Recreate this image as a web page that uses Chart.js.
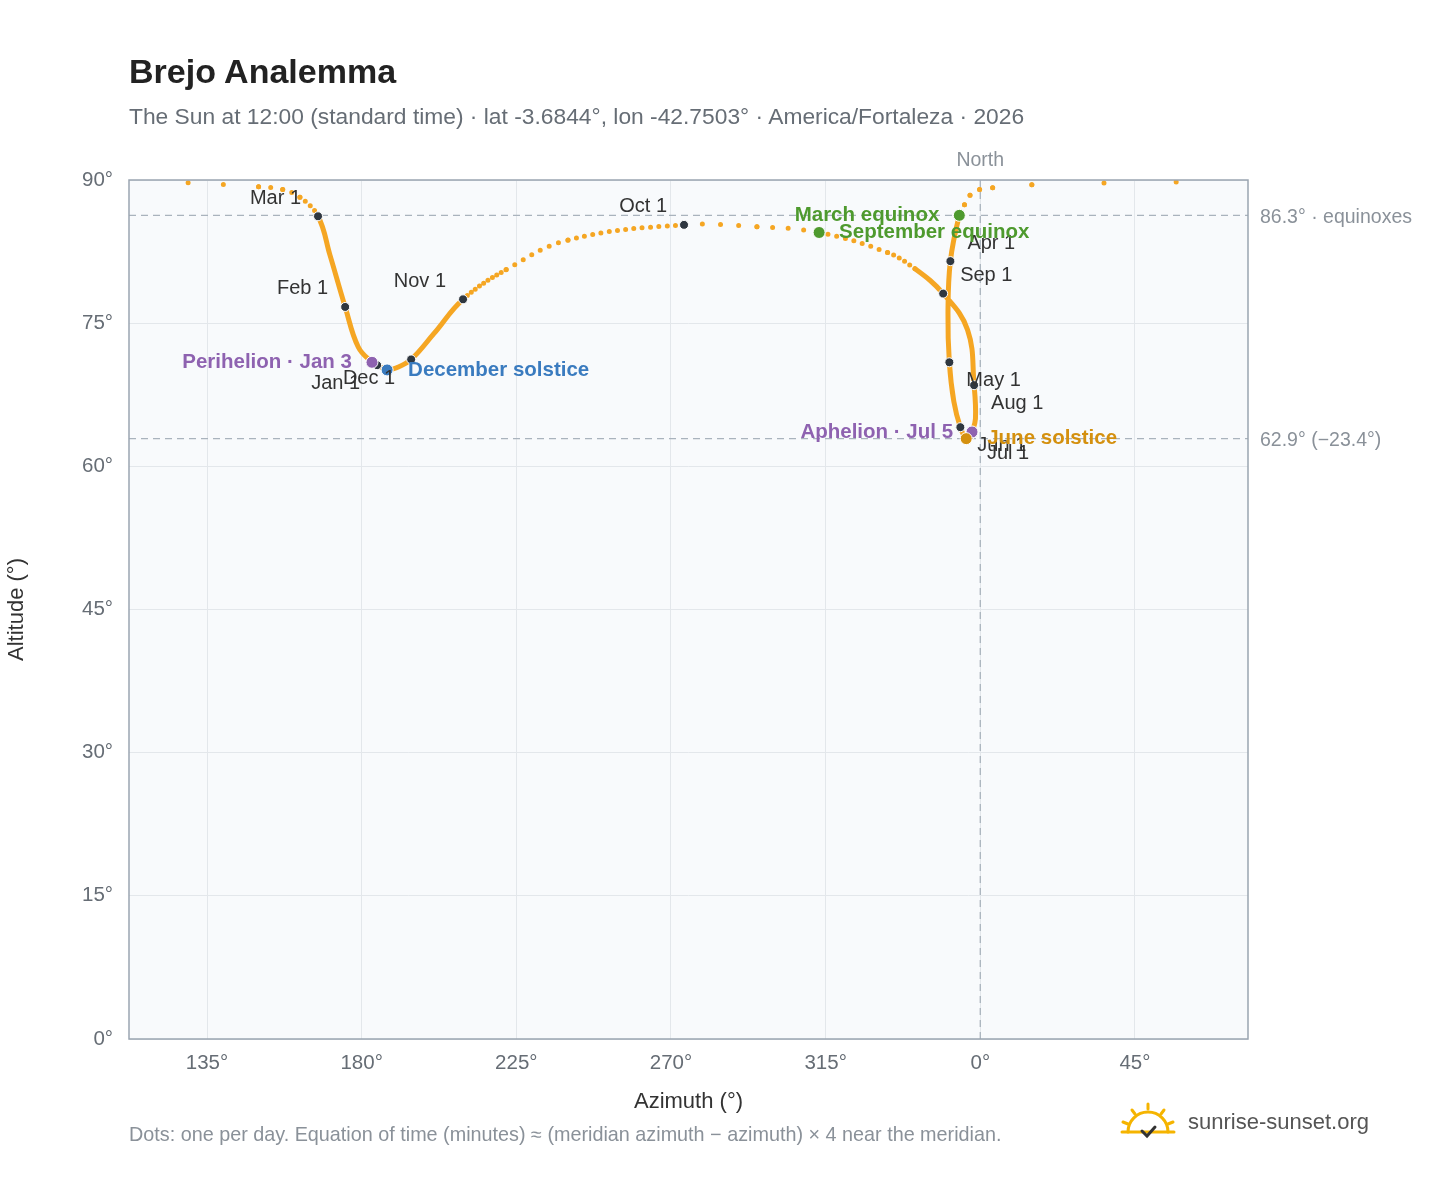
<!DOCTYPE html>
<html>
<head>
<meta charset="utf-8">
<script src="https://cdn.jsdelivr.net/npm/chart.js@4.4.1/dist/chart.umd.min.js"></script>
<style>
  body { margin: 0; background: #fff; font-family: "Liberation Sans", Arial, sans-serif; }
  #wrap { position: relative; width: 1448px; height: 1188px; }
  #title { position: absolute; left: 129px; top: 52px; font-size: 34px; font-weight: bold; color: #222; }
  #sub { position: absolute; left: 129px; top: 103px; font-size: 22.8px; color: #666d75; }
  #foot { position: absolute; left: 129px; top: 1123px; font-size: 19.8px; color: #8a9199; }
  #logo { position: absolute; left: 1120px; top: 1102px; font-size: 22px; color: #555; display: flex; align-items: center; gap: 12px; }
  canvas { position: absolute; left: 0; top: 0; }
</style>
</head>
<body>
<div id="wrap">
  <canvas id="chart" width="1448" height="1188"></canvas>
  <div id="title">Brejo Analemma</div>
  <div id="sub">The Sun at 12:00 (standard time) · lat -3.6844°, lon -42.7503° · America/Fortaleza · 2026</div>
  <div id="foot">Dots: one per day. Equation of time (minutes) ≈ (meridian azimuth − azimuth) × 4 near the meridian.</div>
  <div id="logo">
    <svg width="56" height="40" viewBox="0 0 56 40">
      <g stroke="#f5b400" stroke-width="3" stroke-linecap="round" fill="none">
        <path d="M8 30 A20 20 0 0 1 48 30"/>
        <line x1="28" y1="2" x2="28" y2="7"/><line x1="12" y1="8" x2="15" y2="12"/>
        <line x1="44" y1="8" x2="41" y2="12"/><line x1="3" y1="20" x2="8" y2="22"/>
        <line x1="53" y1="20" x2="48" y2="22"/><line x1="2" y1="30" x2="54" y2="30"/>
      </g>
      <path d="M22 29 L27 34 L35 25" stroke="#333" stroke-width="3" fill="none" stroke-linecap="round"/>
    </svg>
    <span>sunrise-sunset.org</span>
  </div>
</div>
<script>
// ── Data ───────────────────────────────────────────────────
// day of year, azimuth (unwrapped: 360 = north), altitude
const days = [1, 3, 15, 32, 46, 60, 64, 66, 68, 70,
              72, 74, 75, 76, 77, 78, 79, 91, 105, 121, 135, 152, 172, 182, 186, 196, 213, 227, 244, 253, 258, 266, 270, 274, 288, 295, 305, 319, 335, 344, 355, 365];
const azimuth = [184.5, 183.0, 179.0, 175.2, 170.8, 167.3, 162.0, 157.0, 150.0, 129.5,
                 417.0, 375.0, 363.6, 359.8, 357.0, 355.4, 353.9, 351.3, 350.6, 351.0, 352.3, 354.2, 355.9, 357.0, 357.6, 358.6, 358.2, 356.3, 349.2, 341.0, 333.0, 313.1, 295.0, 273.8, 240.0, 222.0, 209.5, 201.0, 194.4, 190.0, 187.4, 184.6];
const altitude = [70.6, 70.9, 72.5, 76.7, 82.1, 86.2, 88.2, 89.0, 89.3, 89.7,
                  89.8, 89.5, 89.2, 89.0, 88.4, 87.4, 86.3, 81.5, 76.0, 70.9, 66.8, 64.1, 62.9, 63.2, 63.6, 65.0, 68.5, 74.3, 78.1, 80.7, 82.4, 84.5, 85.1, 85.3, 83.7, 80.6, 77.5, 73.9, 71.2, 70.3, 70.1, 70.6];

const monthLabels = ['Jan 1', 'Feb 1', 'Mar 1', 'Apr 1', 'May 1', 'Jun 1', 'Jul 1', 'Aug 1', 'Sep 1', 'Oct 1', 'Nov 1', 'Dec 1'];
const monthDays = [1, 32, 60, 91, 121, 152, 182, 213, 244, 274, 305, 335];

const eventNames = ['March equinox', 'September equinox', 'Perihelion · Jan 3', 'December solstice', 'Aphelion · Jul 5', 'June solstice'];
const eventDays = [79, 266, 3, 355, 186, 172];
const eventColors = ['#4e9a2e', '#4e9a2e', '#8e62b0', '#3a7bbf', '#8e62b0', '#d4900f'];

const equinoxAlt = 86.3;
const solsticeAlt = 62.9;
const xTicks = [135, 180, 225, 270, 315, 360, 405];

// ── Build datasets ─────────────────────────────────────────
const pt = d => { const i = days.indexOf(d); return { x: azimuth[i], y: altitude[i], d }; };
// path runs from the right-hand wrap (Mar 13) through the year and back to Mar 11
const split = days.indexOf(72);
const pathIdx = [...days.keys()].slice(split).concat([...days.keys()].slice(0, split));
const path = pathIdx.map(i => ({ x: azimuth[i], y: altitude[i], d: days[i] }));

const ORANGE = '#f5a623';
const FONT = '"Liberation Sans", Arial';

// label placement: [dx, dy, align]
const monthPlace = {
  'Jan 1': [-17, 18, 'right'], 'Feb 1': [-17, -18, 'right'], 'Mar 1': [-17, -18, 'right'],
  'Apr 1': [17, -18, 'left'], 'May 1': [17, 18, 'left'], 'Jun 1': [17, 18, 'left'],
  'Jul 1': [17, 18, 'left'], 'Aug 1': [17, 18, 'left'], 'Sep 1': [17, -18, 'left'],
  'Oct 1': [-17, -18, 'right'], 'Nov 1': [-17, -18, 'right'], 'Dec 1': [-16, 19, 'right']
};
const eventPlace = [[-20, 0, 'right'], [20, 0, 'left'], [-20, 0, 'right'], [21, 0, 'left'], [-19, 0, 'right'], [21, 0, 'left']];

const overlay = {
  id: 'overlay',
  beforeDatasetsDraw(chart) {
    const { ctx, chartArea: a, scales: { x, y } } = chart;
    ctx.save();
    ctx.setLineDash([7, 5]);
    ctx.strokeStyle = '#a9b3bd';
    ctx.lineWidth = 1.3;
    [equinoxAlt, solsticeAlt].forEach(v => {
      ctx.beginPath(); ctx.moveTo(a.left, y.getPixelForValue(v)); ctx.lineTo(a.right, y.getPixelForValue(v)); ctx.stroke();
    });
    ctx.beginPath(); ctx.moveTo(x.getPixelForValue(360), a.top); ctx.lineTo(x.getPixelForValue(360), a.bottom); ctx.stroke();
    ctx.setLineDash([]);
    ctx.fillStyle = '#8a9199';
    ctx.font = '19.5px ' + FONT;
    ctx.textBaseline = 'middle';
    ctx.fillText('86.3° · equinoxes', a.right + 12, y.getPixelForValue(equinoxAlt) + 2);
    ctx.fillText('62.9° (−23.4°)', a.right + 12, y.getPixelForValue(solsticeAlt) + 2);
    ctx.textAlign = 'center';
    ctx.fillText('North', x.getPixelForValue(360), a.top - 19);
    ctx.restore();
  },
  afterDatasetsDraw(chart) {
    const { ctx, scales: { x, y } } = chart;
    ctx.save();
    ctx.textBaseline = 'middle';
    ctx.font = '20px ' + FONT;
    ctx.fillStyle = '#333';
    monthLabels.forEach((m, k) => {
      const p = pt(monthDays[k]); const [dx, dy, al] = monthPlace[m];
      ctx.textAlign = al;
      ctx.fillText(m, x.getPixelForValue(p.x) + dx, y.getPixelForValue(p.y) + dy);
    });
    ctx.font = 'bold 20.5px ' + FONT;
    eventNames.forEach((n, k) => {
      const p = pt(eventDays[k]); const [dx, dy, al] = eventPlace[k];
      ctx.textAlign = al; ctx.fillStyle = eventColors[k];
      ctx.fillText(n, x.getPixelForValue(p.x) + dx, y.getPixelForValue(p.y) + dy);
    });
    ctx.restore();
  }
};

const bgPlugin = {
  id: 'bg',
  beforeDraw(chart) {
    const { ctx, chartArea: a } = chart;
    ctx.save(); ctx.fillStyle = '#f8fafc'; ctx.fillRect(a.left, a.top, a.right - a.left, a.bottom - a.top); ctx.restore();
  },
  afterDraw(chart) {
    const { ctx, chartArea: a } = chart;
    ctx.save(); ctx.strokeStyle = '#9aa5b1'; ctx.lineWidth = 1.5; ctx.strokeRect(a.left, a.top, a.right - a.left, a.bottom - a.top); ctx.restore();
  }
};

new Chart(document.getElementById('chart'), {
  type: 'scatter',
  data: {
    datasets: [
      {
        data: eventDays.map(pt), pointRadius: 6, pointBackgroundColor: eventColors,
        pointBorderColor: '#fff', pointBorderWidth: 1, showLine: false, order: 0
      },
      {
        data: monthDays.map(pt), pointRadius: 4.5, pointBackgroundColor: '#2f3740',
        pointBorderColor: '#fff', pointBorderWidth: 1, showLine: false, order: 1
      },
      {
        data: path, showLine: true, tension: 0.4, borderColor: ORANGE, borderWidth: 5,
        borderCapStyle: 'round', pointRadius: 0, order: 2,
        segment: {
          borderDash: c => {
            const px = Math.hypot(c.p1.x - c.p0.x, c.p1.y - c.p0.y);
            const dd = Math.abs(c.p1.raw.d - c.p0.raw.d) || 1;
            return px / dd > 4.5 ? [0, px / dd] : undefined;
          }
        }
      }
    ]
  },
  plugins: [bgPlugin, overlay],
  options: {
    responsive: false, animation: false,
    layout: { padding: { left: 0, top: 180, right: 200, bottom: 69 } },
    plugins: { legend: { display: false }, tooltip: { enabled: false } },
    scales: {
      x: {
        min: 112.3, max: 437.9,
        afterBuildTicks: s => { s.ticks = xTicks.map(v => ({ value: v })); },
        afterFit: s => { s.height = 80; },
        grid: { color: '#e3e7eb', drawTicks: false },
        border: { display: false },
        ticks: { padding: 12, color: '#666d75', font: { size: 20.5, family: FONT }, callback: v => (v % 360) + '°' },
        title: { display: true, text: 'Azimuth (°)', color: '#333', font: { size: 22, family: FONT }, padding: { top: 0 } }
      },
      y: {
        min: 0, max: 90,
        afterFit: s => { s.width = 129; },
        grid: { color: '#e3e7eb', drawTicks: false },
        border: { display: false },
        ticks: { stepSize: 15, padding: 16, color: '#666d75', font: { size: 20.5, family: FONT }, callback: v => v + '°' },
        title: { display: true, text: 'Altitude (°)', color: '#333', font: { size: 22, family: FONT }, padding: { bottom: 24 } }
      }
    }
  }
});
</script>
</body>
</html>
